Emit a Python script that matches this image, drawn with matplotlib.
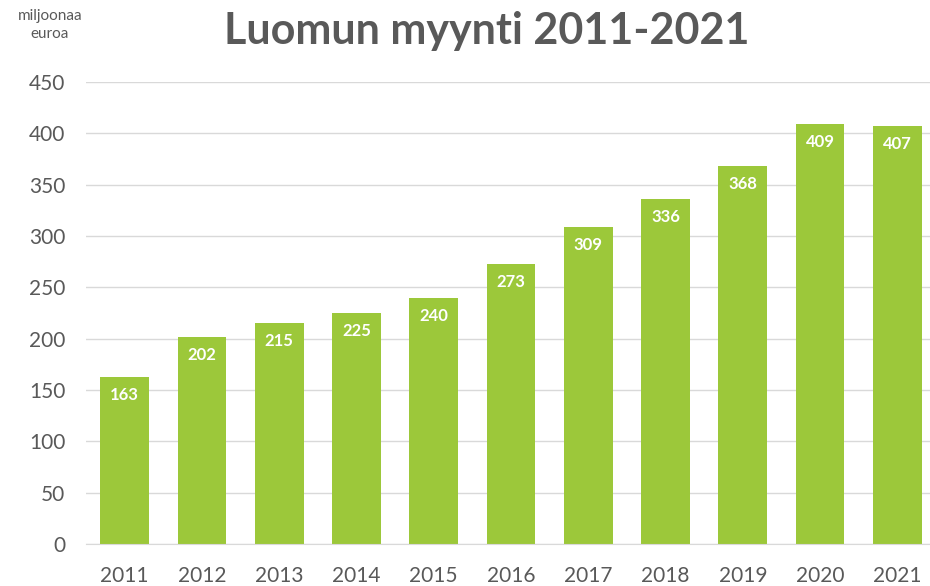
import matplotlib.pyplot as plt

years = ["2011", "2012", "2013", "2014", "2015", "2016", "2017", "2018", "2019", "2020", "2021"]
sales = [163, 202, 215, 225, 240, 273, 309, 336, 368, 409, 407]
yticks = [0, 50, 100, 150, 200, 250, 300, 350, 400, 450]

plt.rcParams["font.family"] = ["Lato", "DejaVu Sans"]
grey = "#595959"
green = "#9cc83a"

fig = plt.figure(figsize=(9.3, 5.86), dpi=100)
ax = fig.add_axes([86 / 930, 1 - 544 / 586, (936 - 86) / 930, (544 - 82) / 586])

x = range(len(years))
ax.bar(x, sales, width=0.63, color=green, zorder=2)
for xi, v in zip(x, sales):
    ax.annotate(str(v), (xi, v), xytext=(0, -13), textcoords="offset points",
                ha="center", va="center", color="white", fontsize=12,
                fontweight="bold", zorder=3)

ax.set_xlim(-0.5, 10.5)
ax.set_ylim(0, 450)
ax.set_yticks(yticks)
ax.set_xticks(list(x))
ax.set_xticklabels(years)
ax.tick_params(axis="both", length=0, labelsize=15, labelcolor=grey)
ax.tick_params(axis="x", pad=16)
ax.tick_params(axis="y", pad=15)
ax.grid(axis="y", color="#d9d9d9", lw=1, zorder=0)
for edge in ["top", "right", "left"]:
    ax.spines[edge].set_visible(False)
ax.spines["bottom"].set_color("#d9d9d9")

fig.text(487 / 930, 1 - 31 / 586, "Luomun myynti 2011-2021", ha="center", va="center",
         fontsize=31, fontweight="bold", color=grey)
fig.text(50 / 930, 1 - 25 / 586, "miljoonaa\neuroa", ha="center", va="center",
         fontsize=11, color=grey, linespacing=1.3)

fig.savefig("out.png", dpi=100)
